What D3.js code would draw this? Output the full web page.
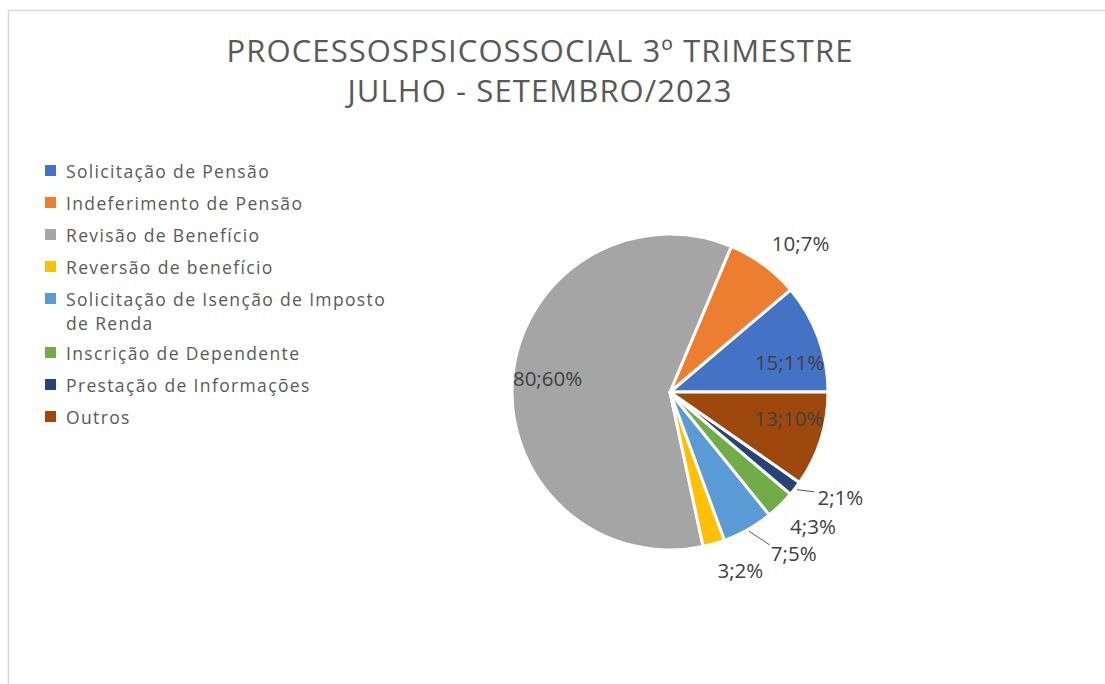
<!DOCTYPE html>
<html>
<head>
<meta charset="utf-8">
<script src="https://cdn.jsdelivr.net/npm/d3@7"></script>
<style>
  body { margin: 0; background: #fff; }
  text { font-family: "Open Sans", "Noto Sans", sans-serif; }
</style>
</head>
<body>
<script>
const categories = ['Solicitação de Pensão', 'Indeferimento de Pensão', 'Revisão de Benefício', 'Reversão de benefício',
  'Solicitação de Isenção de Imposto de Renda', 'Inscrição de Dependente', 'Prestação de Informações', 'Outros'];
const values = [15, 10, 80, 3, 7, 4, 2, 13];
const percents = ['11%', '7%', '60%', '2%', '5%', '3%', '1%', '10%'];
const colors = ['#4472c4', '#ed7d31', '#a5a5a5', '#ffc000', '#5b9bd5', '#70ad47', '#264478', '#9e480e'];
const titleLines = ['PROCESSOSPSICOSSOCIAL 3º TRIMESTRE', 'JULHO - SETEMBRO/2023'];

const width = 1105, height = 684;
const cx = 670, cy = 392, radius = 158;

const svg = d3.select('body').append('svg').attr('width', width).attr('height', height)

// chart area border
svg.append('rect').attr('x', 8.5).attr('y', 10.5).attr('width', 1200).attr('height', 800)
  .attr('fill', '#fff').attr('stroke', '#d9d9d9').attr('stroke-width', 1.5)

svg.selectAll('.title').data(titleLines).enter().append('text')
  .attr('x', 540).attr('y', (d, i) => 50 + i * 40)
  .attr('text-anchor', 'middle').attr('dominant-baseline', 'central')
  .attr('font-size', 31).attr('letter-spacing', 1.1).attr('fill', '#595959')
  .text(d => d)

// legend
const legendLines = [['Solicitação de Pensão'], ['Indeferimento de Pensão'], ['Revisão de Benefício'], ['Reversão de benefício'],
  ['Solicitação de Isenção de Imposto', 'de Renda'], ['Inscrição de Dependente'], ['Prestação de Informações'], ['Outros']];
let ly = 171;
const legend = svg.append('g')
categories.forEach((c, i) => {
  legend.append('rect').attr('x', 45).attr('y', ly - 6).attr('width', 11).attr('height', 11).attr('fill', colors[i])
  legendLines[i].forEach((t, j) => {
    legend.append('text').attr('x', 66).attr('y', ly + j * 23.5).attr('dominant-baseline', 'central')
      .attr('font-size', 17.5).attr('letter-spacing', 1.35).attr('fill', '#595959').text(t)
  })
  ly += 32 + (legendLines[i].length - 1) * 22
})

// pie, counterclockwise from 3 o'clock
const pie = d3.pie().sort(null).startAngle(Math.PI / 2).endAngle(Math.PI / 2 - 2 * Math.PI)
const arcs = pie(values)
const arc = d3.arc().innerRadius(0).outerRadius(radius)
const g = svg.append('g').attr('transform', 'translate(' + cx + ',' + cy + ')')

g.selectAll('path').data(arcs).enter().append('path')
  .attr('d', arc).attr('fill', (d, i) => colors[i])
  .attr('stroke', '#fff').attr('stroke-width', 3).attr('stroke-linejoin', 'round')

// label placement: inside for big slices, outside otherwise
const inside = [true, false, true, false, false, false, false, true];
const insideR = [0.78, 0, 0.78, 0, 0, 0, 0, 0.77];
const angleShift = [-6, -5, -1, 5.5, 8, 2.5, 6, 5]; // degrees, spreading outer labels
const outsideR = [0, 198, 0, 191, 203, 196, 200, 0];
const leader = [false, false, false, false, true, false, true, false];

function polar(a, r) { return [Math.sin(a) * r, -Math.cos(a) * r] }

arcs.forEach((d, i) => {
  const mid = (d.startAngle + d.endAngle) / 2
  const a = mid - angleShift[i] * Math.PI / 180
  const p = inside[i] ? polar(a, radius * insideR[i]) : polar(a, outsideR[i])
  if (leader[i]) {
    const e = polar(mid, radius + 2)
    const end = i === 6 ? [p[0] - 26, p[1] - 5] : [p[0] - 24, p[1] - 8]
    g.append('polyline').attr('points', [e, end].map(q => q.join(',')).join(' '))
      .attr('fill', 'none').attr('stroke', '#595959').attr('stroke-width', 1)
  }
  g.append('text').attr('x', p[0]).attr('y', p[1])
    .attr('text-anchor', 'middle').attr('dominant-baseline', 'central')
    .attr('font-size', 20.5).attr('fill', '#404040')
    .text(values[i] + ';' + percents[i])
})
</script>
</body>
</html>
